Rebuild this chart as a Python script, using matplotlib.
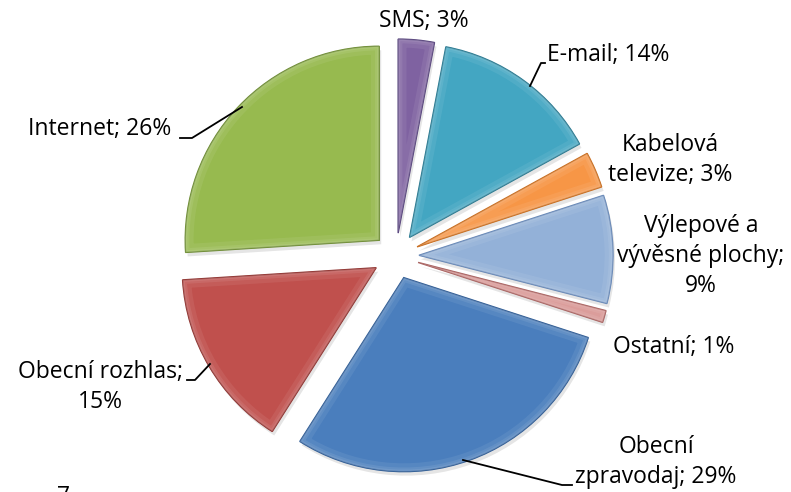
import matplotlib.pyplot as plt
from matplotlib.patches import Wedge

labels = ["SMS", "E-mail", "Kabelová televize", "Výlepové a vývěsné plochy", "Ostatní",
          "Obecní zpravodaj", "Obecní rozhlas", "Internet"]
values = [3, 14, 3, 9, 1, 29, 15, 26]
label_texts = ["SMS; 3%", "E-mail; 14%", "Kabelová\ntelevize; 3%", "Výlepové a\nvývěsné plochy;\n9%",
               "Ostatní; 1%", "Obecní\nzpravodaj; 29%", "Obecní rozhlas;\n15%", "Internet; 26%"]
colors = ["#7F62A1", "#43A6C2", "#F79646", "#93B1D8", "#D99694", "#4A7EBD", "#C0504D", "#97BA4F"]
edges = ["#54407A", "#24778F", "#C86A1A", "#6385B5", "#A8605E", "#2C5A94", "#8E302D", "#6B8A30"]

W, H = 791, 492
fig = plt.figure(figsize=(W / 100, H / 100), dpi=100)
ax = fig.add_axes([0, 0, 1, 1])

cx, cy = 396, H - 256
R = 194
explode = [23] * len(values)
wedges, _ = ax.pie(values, colors=colors, startangle=90, counterclock=False, radius=R,
                   center=(cx, cy), explode=explode, frame=True,
                   wedgeprops=dict(linewidth=1.0, zorder=2))
for w, ec in zip(wedges, edges):
    w.set_edgecolor(ec)
    c = w.center
    # soft drop shadow
    sh = Wedge((c[0] + 2, c[1] - 4), w.r, w.theta1, w.theta2, facecolor='#000000',
               edgecolor='none', alpha=0.10, zorder=1)
    ax.add_patch(sh)
    # subtle inner bevel highlight
    for lw, a in [(12, 0.07), (6, 0.08), (3, 0.08)]:
        hl = Wedge(c, w.r, w.theta1, w.theta2, fill=False, edgecolor='white',
                   linewidth=lw, alpha=a, zorder=3)
        hl.set_clip_path(w)
        ax.add_patch(hl)
ax.set_xlim(0, W)
ax.set_ylim(0, H)
ax.set_aspect('equal')
ax.axis('off')

fs = 16.5
font = ['Open Sans', 'DejaVu Sans']

def Y(y):
    return H - y

pos = [
    (424, 21, 'center'),
    (547, 55, 'left'),
    (670, 160, 'center'),
    (701, 256, 'center'),
    (613, 347, 'left'),
    (656, 462, 'center'),
    (100, 387, 'center'),
    (28, 129, 'left'),
]
for t, (x, y, ha) in zip(label_texts, pos):
    ax.text(x, Y(y), t, ha=ha, va='center', fontsize=fs, family=font,
            color='black', linespacing=1.33)

leaders = [
    [(530, 86), (541, 63), (545, 63)],
    [(463, 460), (562, 485), (572, 485)],
    [(210, 364), (195, 380), (187, 380)],
    [(242, 107), (192, 138), (180, 138)],
]
for pts in leaders:
    xs = [p[0] for p in pts]
    ys = [Y(p[1]) for p in pts]
    ax.plot(xs, ys, color='black', lw=1.3, zorder=4)

ax.text(63, Y(485), "7", ha='center', va='top', fontsize=fs, family=font, color='black')

fig.savefig("out.png", dpi=100)
